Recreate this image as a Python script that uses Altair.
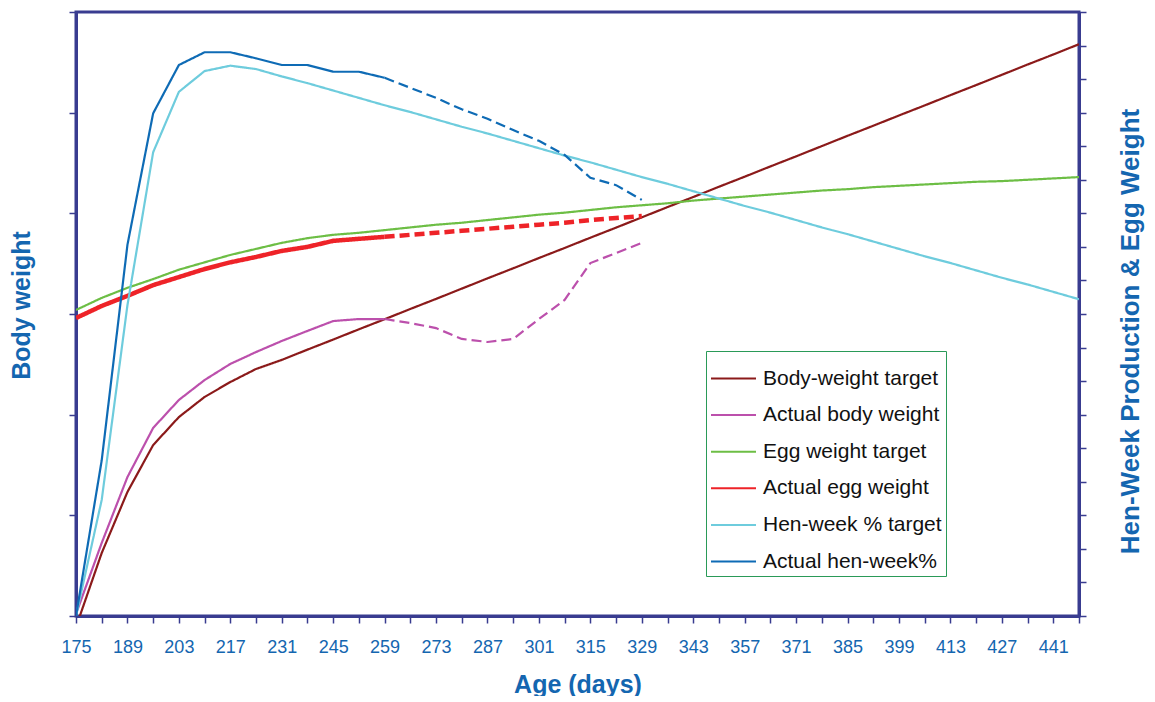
import altair as alt
import pandas as pd

# ---- data ----
days_all = [175, 182, 189, 196, 203, 210, 217, 224, 231, 238, 245, 252, 259, 266,
            273, 280, 287, 294, 301, 308, 315, 322, 329, 336, 343, 350, 357, 364,
            371, 378, 385, 392, 399, 406, 413, 420, 427, 434, 441, 448]
days_act = days_all[:23]  # 175 .. 329
last_solid_day = 259

body_target = [-55, 313, 616, 849, 988, 1088, 1162, 1227, 1272, 1323, 1373, 1424, 1474,
               1525, 1575, 1626, 1677, 1727, 1778, 1828, 1879, 1929, 1980, 2031, 2081,
               2132, 2182, 2233, 2283, 2334, 2385, 2435, 2486, 2536, 2587, 2637, 2688,
               2739, 2789, 2840]
body_actual = [10, 363, 690, 934, 1073, 1172, 1252, 1311, 1366, 1416, 1465, 1475, 1475,
               1455, 1430, 1376, 1361, 1376, 1475, 1570, 1753, 1803, 1853]
egg_target = [45.6, 47.4, 48.9, 50.2, 51.6, 52.7, 53.8, 54.7, 55.6, 56.3, 56.8, 57.1, 57.5,
              57.9, 58.3, 58.6, 59.0, 59.4, 59.8, 60.1, 60.5, 60.9, 61.2, 61.5, 61.9, 62.2,
              62.5, 62.8, 63.1, 63.4, 63.6, 63.9, 64.1, 64.3, 64.5, 64.7, 64.8, 65.0, 65.2,
              65.4]
egg_actual = [44.4, 46.2, 47.7, 49.3, 50.5, 51.7, 52.7, 53.5, 54.4, 55.0, 55.9, 56.2, 56.5,
              56.8, 57.1, 57.4, 57.7, 58.0, 58.3, 58.6, 59.0, 59.3, 59.6]
hw_target = [0, 17.3, 46.3, 69.1, 78.1, 81.2, 82.0, 81.5, 80.4, 79.4, 78.3, 77.2, 76.1, 75.1,
             74.0, 72.9, 71.9, 70.8, 69.7, 68.6, 67.6, 66.5, 65.4, 64.4, 63.3, 62.2, 61.1,
             60.1, 59.0, 57.9, 56.9, 55.8, 54.7, 53.6, 52.6, 51.5, 50.4, 49.4, 48.3, 47.2]
hw_actual = [0, 23.2, 55.3, 74.9, 82.1, 84.0, 84.0, 83.1, 82.1, 82.1, 81.1, 81.1, 80.2, 78.7,
             77.2, 75.5, 74.1, 72.4, 70.8, 68.7, 65.3, 64.2, 62.0]

series_names = ["Body-weight target", "Actual body weight", "Egg weight target",
                "Actual egg weight", "Hen-week % target", "Actual hen-week%"]
series_colors = ["#8B1A1A", "#BC50AC", "#6DBE45", "#EE2328", "#6ECCDD", "#0E6BB5"]

x_ticks = days_all
navy = "#393C90"
blue_text = "#1466B0"


def rows(name, days, values, actual):
    out = []
    for d, v in zip(days, values):
        if not actual:
            out.append({"day": d, "value": v, "series": name, "part": "solid"})
        else:
            if d <= last_solid_day:
                out.append({"day": d, "value": v, "series": name, "part": "solid"})
            if d >= last_solid_day:
                out.append({"day": d, "value": v, "series": name, "part": "dashed"})
    return out


left_df = pd.DataFrame(rows(series_names[0], days_all, body_target, False)
                       + rows(series_names[1], days_act, body_actual, True))
right_df = pd.DataFrame(rows(series_names[2], days_all, egg_target, False)
                        + rows(series_names[3], days_act, egg_actual, True)
                        + rows(series_names[4], days_all, hw_target, False)
                        + rows(series_names[5], days_act, hw_actual, True))

x_enc = alt.X("day:Q",
              scale=alt.Scale(domain=[175, 448], nice=False, zero=False),
              axis=alt.Axis(values=x_ticks, format="d",
                            labelExpr="(datum.value - 175) % 14 == 0 ? datum.label : ''",
                            title="Age (days)", labelPadding=15, titlePadding=16,
                            labelFlush=False, labelOverlap=False))

color_enc = alt.Color("series:N",
                      scale=alt.Scale(domain=series_names, range=series_colors),
                      legend=alt.Legend(title=None, orient="none", legendX=630, legendY=339,
                                        symbolType="stroke", symbolSize=2025,
                                        symbolStrokeWidth=2, labelFontSize=21,
                                        labelColor="#111111", labelFont="Liberation Sans",
                                        labelOffset=6, rowPadding=2.6, padding=4,
                                        strokeColor="#2A9A58", fillColor="white",
                                        labelLimit=400))
dash_enc = alt.StrokeDash("part:N",
                          scale=alt.Scale(domain=["solid", "dashed"], range=[[1, 0], [10, 5]]),
                          legend=None)
width_enc = alt.condition(alt.datum.series == "Actual egg weight", alt.value(4.5),
                          alt.value(2.2))

left = alt.Chart(left_df).mark_line(clip=True).encode(
    x=x_enc,
    y=alt.Y("value:Q", scale=alt.Scale(domain=[0, 3000], nice=False),
            axis=alt.Axis(values=[0, 500, 1000, 1500, 2000, 2500, 3000], labels=False,
                          title="Body weight", titlePadding=34, titleY=293, orient="left")),
    color=color_enc, strokeDash=dash_enc, strokeWidth=width_enc,
)

right = alt.Chart(right_df).mark_line(clip=True).encode(
    x=x_enc,
    y=alt.Y("value:Q", scale=alt.Scale(domain=[0, 90], nice=False),
            axis=alt.Axis(values=list(range(0, 91, 5)), labels=False,
                          title="Hen-Week Production & Egg Weight", titleAngle=270,
                          titleFontSize=26, titlePadding=57, titleY=319, orient="right")),
    color=color_enc, strokeDash=dash_enc, strokeWidth=width_enc,
)

chart = alt.layer(left, right).resolve_scale(y="independent").properties(
    width=1003, height=604, autosize="none",
    padding={"left": 68, "top": 4, "right": 68, "bottom": 80},
).configure_view(stroke=navy, strokeWidth=3).configure_axis(
    domainColor=navy, domainWidth=3, tickColor=navy, tickWidth=1.5, tickSize=7,
    grid=False, labelColor=blue_text, labelFont="Liberation Sans", labelFontSize=18,
    titleFont="Liberation Sans", titleFontSize=25, titleFontWeight="bold",
    titleColor=blue_text,
)

chart.save("out.html", embed_options={"renderer": "svg", "actions": False})
